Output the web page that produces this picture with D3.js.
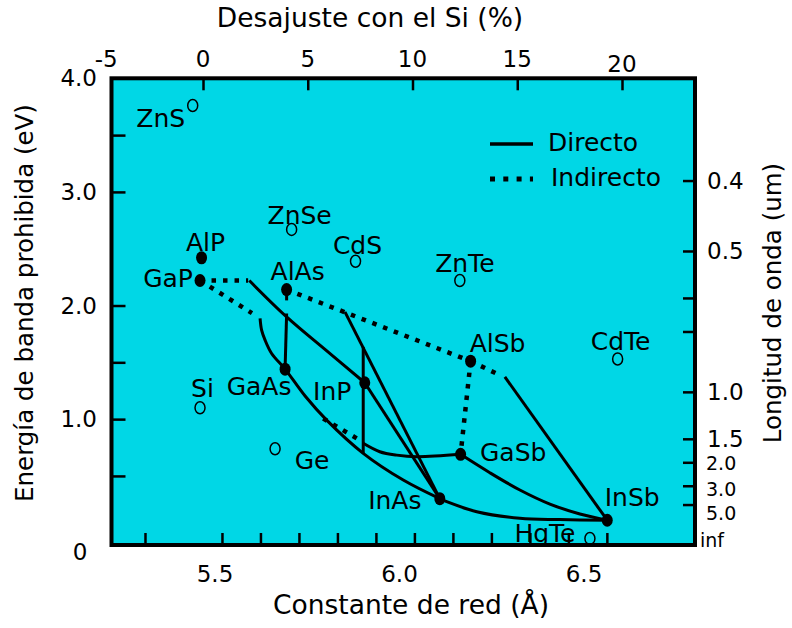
<!DOCTYPE html>
<html><head><meta charset="utf-8">
<script src="https://cdn.jsdelivr.net/npm/d3@7/dist/d3.min.js"></script>
<style>
body{margin:0;background:#fff}
text{font-family:"DejaVu Sans",sans-serif;fill:#000}
</style>
</head><body>
<svg id="chart" width="792" height="628"></svg>
<script>
// ---------- DATA ----------
// filled dots (III-V compounds): lattice constant (Å), band gap (eV)
const dotNames = ["AlP","GaP","AlAs","GaAs","InP","InAs","GaSb","AlSb","InSb"];
const dotA     = [5.447,5.443,5.668,5.664,5.871,6.066,6.120,6.146,6.501];
const dotE     = [2.42, 2.22, 2.14, 1.44, 1.32, 0.30, 0.69, 1.51, 0.11];
// open circles
const openNames = ["ZnS","ZnSe","CdS","ZnTe","CdTe","Si","Ge","HgTe"];
const openA     = [5.424,5.681,5.847,6.118,6.528,5.443,5.638,6.456];
const openE     = [3.76, 2.67, 2.39, 2.22, 1.53, 1.10, 0.74, -0.05];

// alloy curves [a, Eg]
const gapToInpIndirect   = [[5.443,2.22],[5.568,2.22]];
const gapToInpDirect     = [[5.571,2.22],[5.668,1.90],[5.770,1.607],[5.871,1.32]];
const inpToInas          = [[5.871,1.32],[6.066,0.30]];
const gapToGaasIndirect  = [[5.443,2.22],[5.578,1.933]];
const gaasInasCurve      = [[5.599,1.886],[5.603,1.783],[5.612,1.695],[5.629,1.578],[5.664,1.44],
                            [5.716,1.203],[5.772,0.991],[5.867,0.699],[5.971,0.464],[6.066,0.30]];
const inasToInsb         = [[6.066,0.30],[6.084,0.273],[6.162,0.185],[6.274,0.127],[6.378,0.116],[6.501,0.11]];
const alasStub           = [[5.668,2.14],[5.668,2.045]];
const alasToGaas         = [[5.668,1.929],[5.664,1.44]];
const alasToAlsb         = [[5.668,2.14],[6.146,1.51]];
const alsbToInsbIndirect = [[6.146,1.51],[6.222,1.387]];
const alsbToInsbDirect   = [[6.235,1.372],[6.501,0.11]];
const alinasDirect       = [[5.8195,1.944],[6.066,0.30]];
const inpLatticeMatched  = [[5.867,1.636],[5.867,0.699]];
const gasbBranchIndirect = [[5.763,1.006],[5.850,0.831]];
const gasbBranchDirect   = [[5.867,0.787],[5.910,0.713],[5.954,0.683],[6.006,0.669],[6.120,0.69]];
const alsbToGasb         = [[6.146,1.51],[6.120,0.69]];
const gasbToInsb         = [[6.120,0.69],[6.196,0.528],[6.274,0.376],[6.352,0.252],[6.430,0.165],[6.501,0.11]];

// axes
const bottomTicks   = [5.3,5.5,5.6,5.7,5.8,5.9,6.0,6.1,6.2,6.3,6.4,6.5];
const bottomLabels  = [5.5,6.0,6.5];
const leftTicks     = [0.5,1.0,1.5,2.0,3.0,3.5];
const leftLabels    = [1.0,2.0,3.0,4.0];
const topTicks      = [0,5,10,15,20];
const topLabels     = [-5,0,5,10,15,20];
const waveTicks     = [0.4,0.5,0.6,0.7,1.0,1.5,2.0,3.0,5.0];
const waveBigLabels = [0.4,0.5,1.0,1.5];
const waveSmallLabels = [2.0,3.0,5.0];

// ---------- LAYOUT ----------
const L = 111.5, R = 695, T = 78.3, B = 545;
const svg = d3.select("#chart");
const x = d3.scaleLinear().domain([5.213, 6.729]).range([L, R]);
const y = d3.scaleLinear().domain([-0.108, 4.0]).range([B, T]);
const xLabel = d3.scaleLinear().domain([5.5, 6.5]).range([215, 584]);
const xTop = d3.scaleLinear().domain([0, 20]).range([203, 622]);
const smallLabelNudge = {2: 1, 3: 3, 5: 8};

svg.append("rect").attr("x", L).attr("y", T).attr("width", R - L).attr("height", B - T)
  .attr("fill", "#00d7e6");

// ticks
const gB = svg.append("g").attr("transform", `translate(0,${B})`)
  .call(d3.axisBottom(x).tickValues(bottomTicks).tickSize(-12).tickFormat(""));
const gL = svg.append("g").attr("transform", `translate(${L},0)`)
  .call(d3.axisLeft(y).tickValues(leftTicks).tickSize(-14).tickFormat(""));
const gT = svg.append("g").attr("transform", `translate(0,${T})`)
  .call(d3.axisTop(xTop).tickValues(topTicks).tickSize(-12).tickFormat(""));
const gR = svg.append("g").attr("transform", `translate(${R},0)`)
  .call(d3.axisRight(y).tickValues(waveTicks.map(w => 1.24 / w)).tickSize(-12).tickFormat(""));
[gB, gL, gT, gR].forEach(g => {
  g.select(".domain").remove();
  g.selectAll(".tick line").attr("stroke", "#000").attr("stroke-width", 2.5);
});

// tick labels
svg.append("g").selectAll("text").data(bottomLabels).join("text")
  .attr("x", d => xLabel(d)).attr("y", 582).attr("text-anchor", "middle")
  .style("font-size", "23px").text(d => d.toFixed(1));
svg.append("g").selectAll("text").data(leftLabels).join("text")
  .attr("x", 97).attr("y", d => y(d) + 8).attr("text-anchor", "end")
  .style("font-size", "23px").text(d => d.toFixed(1));
svg.append("text").attr("x", 80).attr("y", B + 15).attr("text-anchor", "middle")
  .style("font-size", "23px").text("0");
svg.append("g").selectAll("text").data(topLabels).join("text")
  .attr("x", d => xTop(d) + (d < 0 ? 8 : 0)).attr("y", d => d === 20 ? 72 : 67).attr("text-anchor", "middle")
  .style("font-size", "23px").text(d => d);
svg.append("g").selectAll("text").data(waveBigLabels).join("text")
  .attr("x", 707).attr("y", d => y(1.24 / d) + 8)
  .style("font-size", "23px").text(d => d.toFixed(1));
svg.append("g").selectAll("text").data(waveSmallLabels).join("text")
  .attr("x", 706).attr("y", d => y(1.24 / d) + 7 + smallLabelNudge[d])
  .style("font-size", "19px").text(d => d.toFixed(1));
svg.append("text").attr("x", 700).attr("y", B + 2).style("font-size", "19px").text("inf");

// axis titles
svg.append("text").attr("x", 370).attr("y", 27).attr("text-anchor", "middle")
  .style("font-size", "26.5px").text("Desajuste con el Si (%)");
svg.append("text").attr("x", 411).attr("y", 614).attr("text-anchor", "middle")
  .style("font-size", "26.5px").text("Constante de red (Å)");
svg.append("text").attr("transform", "translate(33,303) rotate(-90)").attr("text-anchor", "middle")
  .style("font-size", "24.5px").text("Energía de banda prohibida (eV)");
svg.append("text").attr("transform", "translate(781,303) rotate(-90)").attr("text-anchor", "middle")
  .style("font-size", "24.5px").text("Longitud de onda (um)");

// curves
const straight = d3.line().x(d => x(d[0])).y(d => y(d[1]));
const smooth = d3.line().x(d => x(d[0])).y(d => y(d[1])).curve(d3.curveCatmullRom.alpha(0.5));
const curves = [
  {p: gapToInpIndirect, dot: true},
  {p: gapToInpDirect, smooth: true},
  {p: inpToInas},
  {p: gapToGaasIndirect, dot: true},
  {p: gaasInasCurve, smooth: true},
  {p: inasToInsb, smooth: true},
  {p: alasStub},
  {p: alasToGaas},
  {p: alasToAlsb, dot: true},
  {p: alsbToInsbIndirect, dot: true},
  {p: alsbToInsbDirect},
  {p: alinasDirect},
  {p: inpLatticeMatched},
  {p: gasbBranchIndirect, dot: true},
  {p: gasbBranchDirect, smooth: true},
  {p: alsbToGasb, dot: true},
  {p: gasbToInsb, smooth: true}
];
svg.append("g").selectAll("path").data(curves).join("path")
  .attr("d", c => (c.smooth ? smooth : straight)(c.p))
  .attr("fill", "none").attr("stroke", "#000")
  .attr("stroke-width", c => c.dot ? 4.5 : 3)
  .attr("stroke-dasharray", c => c.dot ? "4.5,7" : null);

// markers
svg.append("g").selectAll("ellipse").data(dotNames).join("ellipse")
  .attr("cx", (d, i) => x(dotA[i])).attr("cy", (d, i) => y(dotE[i]))
  .attr("rx", 5.5).attr("ry", 6.5).attr("fill", "#000");
svg.append("g").selectAll("ellipse").data(openNames).join("ellipse")
  .attr("cx", (d, i) => x(openA[i])).attr("cy", (d, i) => y(openE[i]))
  .attr("rx", 5).attr("ry", 6).attr("fill", "none").attr("stroke", "#000").attr("stroke-width", 1.5);

// labels: offset (px) of label centre from its marker
const labelOffset = {
  ZnS:[-32,12.5], AlP:[4,-16], GaP:[-32,-3], ZnSe:[8,-14], CdS:[2,-16], AlAs:[11,-19],
  ZnTe:[5,-18], AlSb:[27,-18], CdTe:[3,-18], Si:[2.5,-20], GaAs:[-26,17], InP:[-32.5,8],
  Ge:[37,11], GaSb:[52.6,-2], InAs:[-45,1], InSb:[25,-23], HgTe:[-45,-5]
};
const allNames = dotNames.concat(openNames);
const allA = dotA.concat(openA), allE = dotE.concat(openE);
svg.append("g").selectAll("text").data(allNames).join("text")
  .attr("x", (d, i) => x(allA[i]) + labelOffset[d][0])
  .attr("y", (d, i) => y(allE[i]) + labelOffset[d][1] + 9)
  .attr("text-anchor", "middle").style("font-size", "25px").text(d => d);

// legend
const lg = svg.append("g");
lg.append("line").attr("x1", 490).attr("x2", 533).attr("y1", 144).attr("y2", 144)
  .attr("stroke", "#000").attr("stroke-width", 3.5);
lg.append("line").attr("x1", 490).attr("x2", 533).attr("y1", 179).attr("y2", 179)
  .attr("stroke", "#000").attr("stroke-width", 5).attr("stroke-dasharray", "5,8.3");
lg.append("text").attr("x", 548).attr("y", 151).style("font-size", "25px").text("Directo");
lg.append("text").attr("x", 551).attr("y", 186).style("font-size", "25px").text("Indirecto");

// frame
svg.append("rect").attr("x", L).attr("y", T).attr("width", R - L).attr("height", B - T)
  .attr("fill", "none").attr("stroke", "#000").attr("stroke-width", 4);
</script>
</body></html>
